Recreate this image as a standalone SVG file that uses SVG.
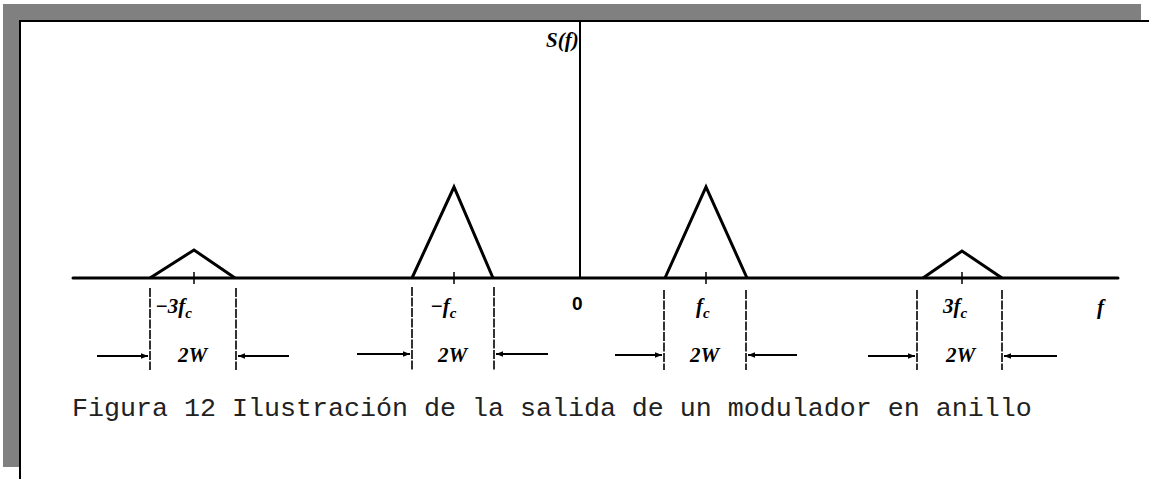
<svg xmlns="http://www.w3.org/2000/svg" width="1149" height="479" viewBox="0 0 1149 479">
<style>
.frame{fill:#808080}
.edge{fill:#000}
.axis{stroke:#000;stroke-width:3;fill:none;stroke-linecap:round}
.yaxis{stroke:#000;stroke-width:2;fill:none}
.tri{stroke:#000;stroke-width:3;fill:none;stroke-linejoin:miter}
.tick{stroke:#000;stroke-width:1.5}
.dash{stroke:#000;stroke-width:1.6;stroke-dasharray:9 1.5}
.arr{stroke:#000;stroke-width:2.2;fill:none}
.lbl{font-family:"Liberation Serif",serif;font-style:italic;font-weight:bold;font-size:21px;fill:#000}
.sub{font-size:15px}
.num{font-family:"Liberation Sans",sans-serif;font-weight:bold;font-size:19px;fill:#000}
.cap{font-family:"Liberation Mono",monospace;font-size:26.67px;fill:#222}
</style>
<defs>
<marker id="ah" viewBox="0 0 10 10" refX="10" refY="5" markerWidth="11" markerHeight="7" markerUnits="userSpaceOnUse" orient="auto">
<path d="M0,1 L10,5 L0,9 Z" fill="#000"/>
</marker>
</defs>
<g id="frame">
<rect class="frame" x="3" y="4" width="1138" height="16"/>
<rect class="frame" x="3" y="4" width="16" height="463"/>
<rect class="edge" x="19" y="20" width="1130" height="2"/>
<rect class="edge" x="19" y="20" width="2" height="459"/>
</g>
<g id="axes">
<line class="axis" x1="73" y1="278" x2="1118" y2="278"/>
<line class="yaxis" x1="580" y1="22" x2="580" y2="278"/>
<text class="lbl" x="546" y="47">S(f)</text>
<text class="num" x="572" y="310">0</text>
<text class="lbl" x="1097" y="314">f</text>
</g>
<g id="node-m3fc">
<polyline class="tri" points="150,278 194,250 235,278"/>
<line class="tick" x1="194" y1="272" x2="194" y2="284"/>
<text class="lbl" x="155" y="313">−3<tspan>f</tspan><tspan class="sub" dy="5">c</tspan></text>
<text class="lbl" x="178" y="362">2W</text>
</g>
<g id="node-mfc">
<polyline class="tri" points="412,278 454,187 493,278"/>
<line class="tick" x1="454" y1="272" x2="454" y2="284"/>
<text class="lbl" x="430" y="313">−<tspan>f</tspan><tspan class="sub" dy="5">c</tspan></text>
<text class="lbl" x="438" y="362">2W</text>
</g>
<g id="node-fc">
<polyline class="tri" points="665,278 706,187 747,278"/>
<line class="tick" x1="706" y1="272" x2="706" y2="284"/>
<text class="lbl" x="696" y="313">f<tspan class="sub" dy="5">c</tspan></text>
<text class="lbl" x="690" y="362">2W</text>
</g>
<g id="node-3fc">
<polyline class="tri" points="923,278 962,251 1002,278"/>
<line class="tick" x1="962" y1="272" x2="962" y2="284"/>
<text class="lbl" x="943" y="313">3<tspan>f</tspan><tspan class="sub" dy="5">c</tspan></text>
<text class="lbl" x="946" y="362">2W</text>
</g>
<g id="connectors">
<line class="dash" x1="150" y1="288" x2="150" y2="370"/>
<line class="dash" x1="236" y1="288" x2="236" y2="370"/>
<line class="arr" x1="97" y1="356" x2="148" y2="356" marker-end="url(#ah)"/>
<line class="arr" x1="289" y1="356" x2="238" y2="356" marker-end="url(#ah)"/>
<line class="dash" x1="412" y1="287" x2="412" y2="370"/>
<line class="dash" x1="494" y1="287" x2="494" y2="370"/>
<line class="arr" x1="357" y1="354" x2="410" y2="354" marker-end="url(#ah)"/>
<line class="arr" x1="548" y1="354" x2="496" y2="354" marker-end="url(#ah)"/>
<line class="dash" x1="664" y1="290" x2="664" y2="370"/>
<line class="dash" x1="746" y1="290" x2="746" y2="370"/>
<line class="arr" x1="615" y1="355" x2="662" y2="355" marker-end="url(#ah)"/>
<line class="arr" x1="797" y1="355" x2="748" y2="355" marker-end="url(#ah)"/>
<line class="dash" x1="917" y1="290" x2="917" y2="370"/>
<line class="dash" x1="1002" y1="290" x2="1002" y2="370"/>
<line class="arr" x1="868" y1="356" x2="915" y2="356" marker-end="url(#ah)"/>
<line class="arr" x1="1057" y1="356" x2="1004" y2="356" marker-end="url(#ah)"/>
</g>
<text class="cap" x="72" y="416">Figura 12 Ilustración de la salida de un modulador en anillo</text>
</svg>
